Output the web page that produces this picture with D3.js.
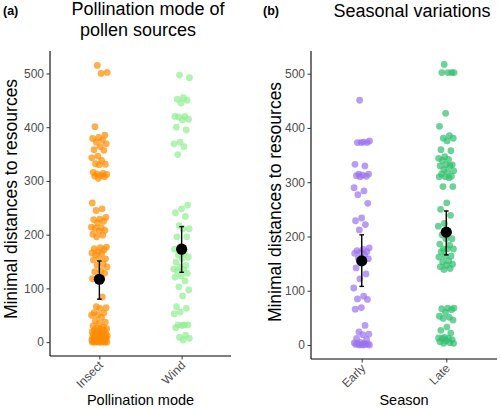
<!DOCTYPE html>
<html>
<head>
<meta charset="utf-8">
<script src="https://cdn.jsdelivr.net/npm/d3@7"></script>
<style>
  html, body { margin: 0; padding: 0; background: #ffffff; }
  svg { display: block; font-family: "Liberation Sans", Arial, sans-serif; }
</style>
</head>
<body>
<svg id="chart" width="500" height="409"></svg>
<script>
// ---------- DATA ----------
const pollinationCategories = ["Insect", "Wind"];
const seasonCategories = ["Early", "Late"];
const yTicks = [0, 100, 200, 300, 400, 500];

const insectValues = [515, 502, 500, 401, 385, 381, 379, 376, 372, 369, 364, 358, 357, 346, 343, 338, 332, 331, 330,
  316, 314, 313, 312, 310, 309, 308, 305, 259, 248, 245, 232, 229, 228, 225, 222, 214, 213, 212, 208, 207, 201, 199,
  196, 177, 176, 174, 172, 168, 166, 165, 162, 155, 155, 153, 145, 143, 140, 133, 131, 128, 121, 118, 84, 66, 64, 63,
  55, 54, 51, 50, 46, 40, 37, 35, 30, 28, 26, 25, 24, 23, 22, 20, 19, 18, 17, 16, 15, 15, 14, 13, 12, 12, 11, 10, 10,
  9, 8, 8, 7, 6, 6, 5, 5, 4, 4, 3, 3, 2, 2, 1, 1, 0, 0, 0, 0, 0, 0];
const windValues = [497, 492, 455, 452, 450, 445, 420, 420, 419, 415, 414, 400, 395, 372, 369, 364, 349, 255, 248,
  241, 234, 217, 211, 211, 196, 196, 178, 173, 165, 162, 158, 156, 149, 143, 140, 136, 135, 132, 128, 123, 121, 114,
  103, 97, 86, 66, 63, 56, 53, 32, 32, 32, 31, 27, 13, 9, 7, 4];
const earlyValues = [451, 376, 374, 373, 373, 373, 333, 330, 315, 315, 313, 312, 311, 310, 290, 284, 277, 261, 234,
  229, 222, 212, 179, 176, 174, 172, 171, 169, 166, 160, 159, 157, 142, 131, 122, 105, 90, 85, 84, 69, 66, 36, 24, 20,
  19, 12, 10, 5, 4, 3, 2, 2, 1, 1, 1, 0, 0, 0];
const lateValues = [517, 502, 502, 502, 502, 427, 403, 386, 381, 381, 376, 360, 358, 347, 344, 342, 340, 332, 332,
  330, 330, 323, 321, 319, 315, 311, 310, 310, 308, 292, 292, 262, 250, 239, 224, 219, 208, 203, 196, 196, 186, 184,
  177, 177, 177, 172, 164, 164, 162, 155, 153, 149, 147, 144, 141, 139, 68, 68, 67, 65, 60, 53, 51, 49, 46, 33, 27,
  22, 14, 13, 12, 12, 10, 8, 6, 4, 3, 3];

// means and confidence intervals
const pollinationMeans = [117, 173];
const pollinationLow = [80, 130];
const pollinationHigh = [151, 215];
const seasonMeans = [155, 208];
const seasonLow = [108, 166];
const seasonHigh = [203, 247];

// ---------- DRAW ----------
const svg = d3.select("#chart");

function jitter(i, amp) {
  const f = ((i * 0.6180339887 + 0.37) % 1) - 0.5;
  return f * 2 * amp;
}

function panel(opts) {
  const g = svg.append("g");
  const x = d3.scalePoint().domain(opts.categories).range([opts.left, opts.right]).padding(0.6);
  const y = d3.scaleLinear().domain([-25.8, 541.8]).range([opts.bottom, opts.top]);

  // points
  opts.series.forEach((vals, k) => {
    const cx = x(opts.categories[k]);
    g.append("g").selectAll("circle").data(vals).join("circle")
      .attr("cx", (d, i) => cx + jitter(i, 8))
      .attr("cy", d => y(d))
      .attr("r", 3.4)
      .attr("fill", opts.colors[k])
      .attr("fill-opacity", 0.7);
  });

  // error bars + means
  opts.categories.forEach((c, k) => {
    const cx = x(c);
    g.append("line").attr("x1", cx).attr("x2", cx)
      .attr("y1", y(opts.low[k])).attr("y2", y(opts.high[k]))
      .attr("stroke", "#000").attr("stroke-width", 1.4);
    [opts.low[k], opts.high[k]].forEach(v => {
      g.append("line").attr("x1", cx - 2.3).attr("x2", cx + 2.3)
        .attr("y1", y(v)).attr("y2", y(v))
        .attr("stroke", "#000").attr("stroke-width", 1.4);
    });
    g.append("circle").attr("cx", cx).attr("cy", y(opts.means[k])).attr("r", 5.6).attr("fill", "#000");
  });

  // y axis
  const ya = g.append("g").attr("transform", `translate(${opts.left},0)`)
    .call(d3.axisLeft(y).tickValues(yTicks).tickSize(3.5).tickPadding(2.5).tickSizeOuter(0));
  ya.select(".domain").attr("d", `M0,${opts.top}V${opts.bottom}`).attr("stroke", "#000").attr("stroke-width", 1.1);
  ya.selectAll(".tick line").attr("stroke", "#333");
  ya.selectAll(".tick text").attr("fill", "#4d4d4d").attr("font-size", 12)
    .attr("font-family", "Liberation Sans, Arial, sans-serif");

  // x axis
  const xa = g.append("g").attr("transform", `translate(0,${opts.bottom})`)
    .call(d3.axisBottom(x).tickSize(3.5).tickSizeOuter(0));
  xa.select(".domain").attr("d", `M${opts.left},0H${opts.right}`).attr("stroke", "#000").attr("stroke-width", 1.1);
  xa.selectAll(".tick line").attr("stroke", "#333");
  xa.selectAll(".tick text")
    .attr("fill", "#4d4d4d").attr("font-size", 12)
    .attr("font-family", "Liberation Sans, Arial, sans-serif")
    .attr("text-anchor", "end")
    .attr("y", 0).attr("dy", 0)
    .attr("transform", "translate(4,10) rotate(-45)");

  // axis titles
  g.append("text").attr("x", (opts.left + opts.right) / 2).attr("y", 405)
    .attr("text-anchor", "middle").attr("font-size", 14.5).attr("fill", "#000").text(opts.xTitle);
  g.append("text").attr("transform", `translate(${opts.yTitleX},${opts.yTitleY}) rotate(-90)`)
    .attr("text-anchor", "middle").attr("font-size", 17.5).attr("fill", "#000")
    .text("Minimal distances to resources");

  // panel tag
  g.append("text").attr("x", opts.tagX).attr("y", 15).attr("font-size", 12.5).attr("font-weight", "bold")
    .attr("fill", "#000").text(opts.tag);

  // title lines
  opts.titleLines.forEach(t => {
    g.append("text").attr("x", t.x).attr("y", t.y).attr("text-anchor", "middle")
      .attr("font-size", 18).attr("fill", "#000").text(t.text);
  });
}

panel({
  categories: pollinationCategories,
  series: [insectValues, windValues],
  colors: ["#ff8c00", "#90ee90"],
  means: pollinationMeans, low: pollinationLow, high: pollinationHigh,
  left: 50, right: 231, top: 51, bottom: 356,
  xTitle: "Pollination mode",
  yTitleX: 17, yTitleY: 199,
  tag: "(a)", tagX: 3,
  titleLines: [{ text: "Pollination mode of", x: 148, y: 15 }, { text: "pollen sources", x: 138, y: 35.5 }]
});

panel({
  categories: seasonCategories,
  series: [earlyValues, lateValues],
  colors: ["#9b72f0", "#2fbf6c"],
  means: seasonMeans, low: seasonLow, high: seasonHigh,
  left: 311, right: 497, top: 51, bottom: 359,
  xTitle: "Season",
  yTitleX: 281, yTitleY: 202,
  tag: "(b)", tagX: 263,
  titleLines: [{ text: "Seasonal variations", x: 412, y: 17 }]
});
</script>
</body>
</html>
